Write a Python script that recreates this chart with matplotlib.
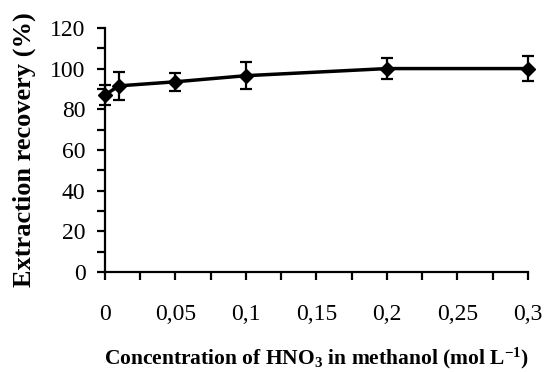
import matplotlib
matplotlib.use('agg')
import matplotlib.pyplot as plt
from matplotlib.ticker import MultipleLocator

plt.rcParams['font.family'] = 'Liberation Serif'
plt.rcParams['mathtext.fontset'] = 'custom'
plt.rcParams['mathtext.rm'] = 'Liberation Serif:bold'
plt.rcParams['mathtext.default'] = 'rm'

# HNO3 concentration (mol/L) vs recovery (%)
conc = [0, 0.01, 0.05, 0.1, 0.2, 0.3]
recovery = [87, 91.5, 93.5, 96.5, 100, 100]
err = [5, 7, 4.5, 6.5, 5, 6]
xticks = [0, 0.05, 0.1, 0.15, 0.2, 0.25, 0.3]
xticklabels = ['0', '0,05', '0,1', '0,15', '0,2', '0,25', '0,3']

fig = plt.figure(figsize=(5.46, 3.72), dpi=100)
ax = fig.add_axes([0.192, 0.269, 0.775, 0.656])

ax.errorbar(conc, recovery, yerr=err, color='black', lw=2.5, marker='D', ms=7,
            capsize=4, elinewidth=1.6, capthick=1.6, clip_on=False, zorder=3)

ax.set_xlim(0, 0.3)
ax.set_ylim(0, 120)
ax.set_xticks(xticks)
ax.set_xticklabels(xticklabels)
ax.xaxis.set_minor_locator(MultipleLocator(0.025))
ax.yaxis.set_major_locator(MultipleLocator(20))
ax.yaxis.set_minor_locator(MultipleLocator(10))

for s in ['top', 'right']:
    ax.spines[s].set_visible(False)
for s in ['left', 'bottom']:
    ax.spines[s].set_linewidth(1.6)

ax.tick_params(axis='both', which='both', direction='out', width=1.6, length=6, labelsize=17)
ax.tick_params(axis='x', which='major', pad=17)
ax.tick_params(axis='y', which='major', pad=8)

ax.set_ylabel('Extraction recovery (%)', fontsize=19, fontweight='bold', labelpad=10)
ax.set_xlabel('Concentration of HNO$_3$ in methanol (mol L$^{-1}$)', fontsize=15.5,
              fontweight='bold', labelpad=15)

fig.savefig('out.png', dpi=100)
